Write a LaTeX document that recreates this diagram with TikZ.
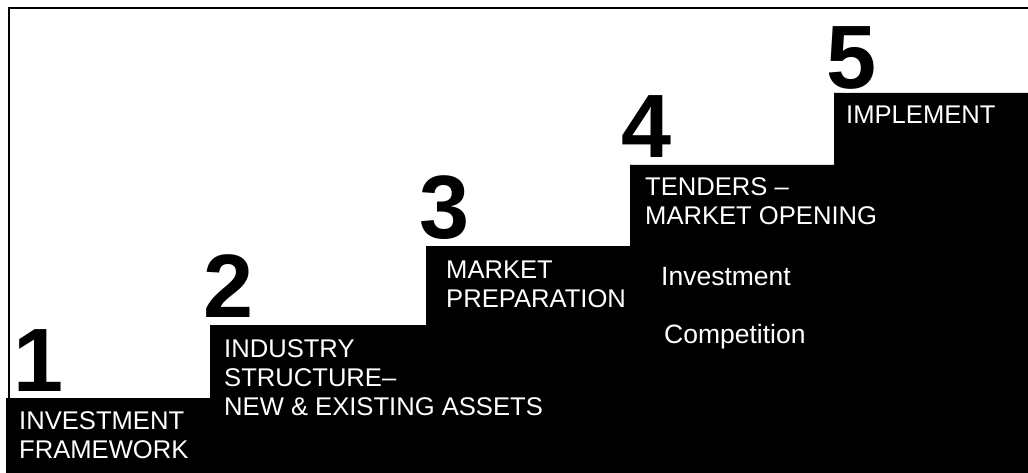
\documentclass[tikz,border=0pt]{standalone}
\usepackage{fontspec}
\setmainfont{Liberation Sans}
\begin{document}
\begin{tikzpicture}[x=1pt,y=-1pt,
  digit/.style={anchor=base west,inner sep=0pt,text=black,font=\fontsize{90}{90}\selectfont\bfseries},
  lbl/.style={anchor=base west,inner sep=0pt,text=white,align=left,font=\fontsize{25.6}{29}\selectfont},
  sublbl/.style={lbl,font=\fontsize{26.5}{29}\selectfont},
  frameline/.style={line width=2pt,black}]
\useasboundingbox (0,0) rectangle (1028,473);
\fill[white] (0,0) rectangle (1028,473);
% frame
\draw[frameline] (8.7,398) -- (8.7,8) -- (1028,8);
% staircase
\fill[black] (6,473) -- (6,398) -- (210,398) -- (210,325) -- (426,325) -- (426,246)
  -- (630,246) -- (630,165) -- (834,165) -- (834,93) -- (1028,93) -- (1028,473) -- cycle;
% digits
\node[digit] (d1) at (13,391) {1};
\node[digit] (d2) at (203,317) {2};
\node[digit] (d3) at (419,239) {3};
\node[digit] (d4) at (621,158) {4};
\node[digit] (d5) at (826,89) {5};
% labels (base anchor = last line)
\node[lbl] (l1) at (19,458) {INVESTMENT\\FRAMEWORK};
\node[lbl] (l2) at (224,415) {INDUSTRY\\STRUCTURE–\\NEW \& EXISTING ASSETS};
\node[lbl] (l3) at (446,307) {MARKET\\PREPARATION};
\node[lbl] (l4) at (645,225) {TENDERS –\\MARKET OPENING};
\node[sublbl] (l4a) at (661,285) {Investment};
\node[sublbl] (l4b) at (664,343) {Competition};
\node[lbl] (l5) at (846,124) {IMPLEMENT};
\end{tikzpicture}
\end{document}
